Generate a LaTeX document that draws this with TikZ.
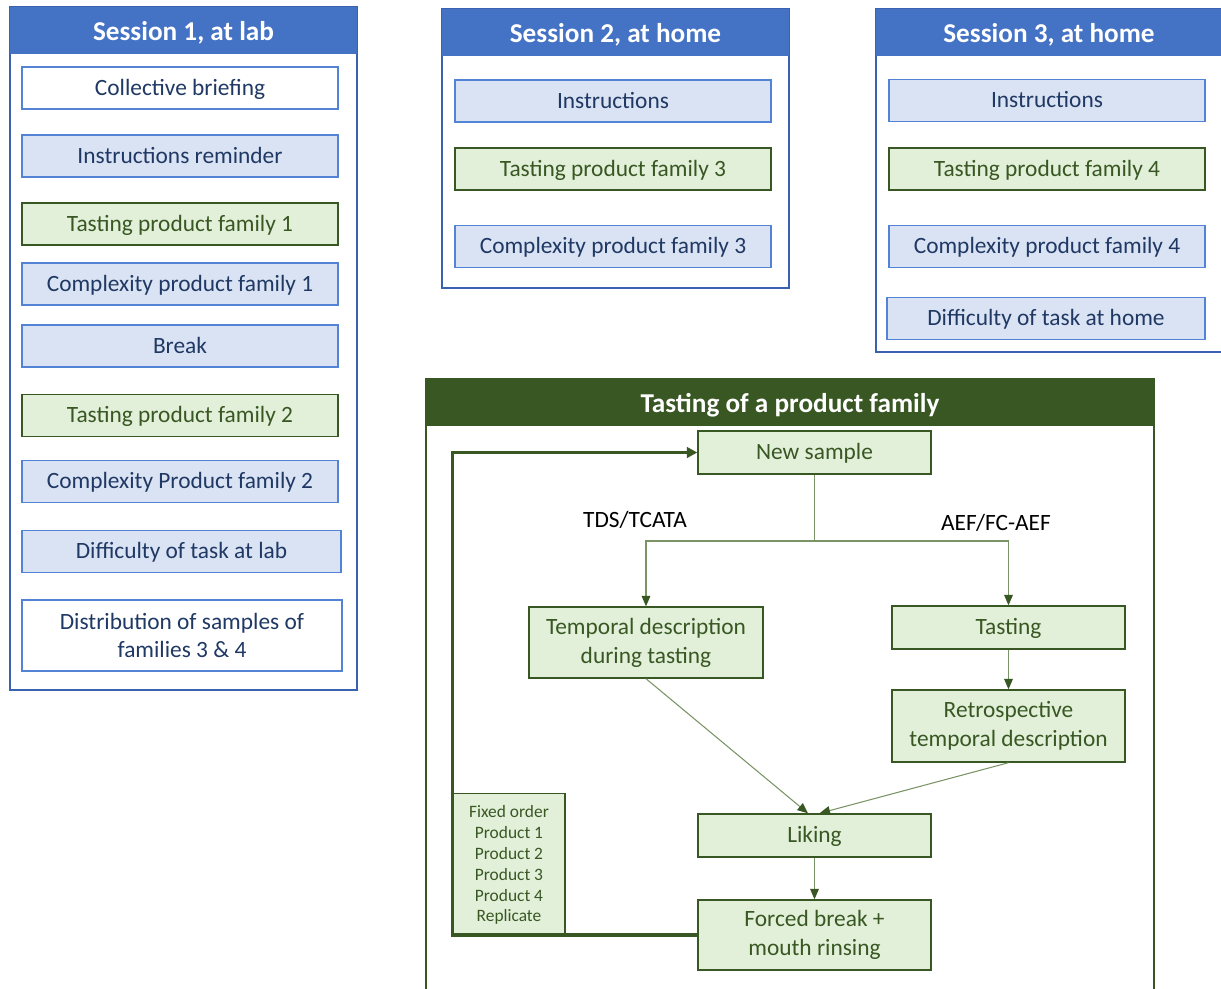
\documentclass[tikz,border=0pt]{standalone}
\usepackage{fontspec}
\setmainfont{Carlito}
\usetikzlibrary{arrows.meta,positioning,calc}

\definecolor{hdblue}{HTML}{4472C4}
\definecolor{frameblue}{HTML}{3A62B0}
\definecolor{boxblue}{HTML}{5283D4}
\definecolor{fillblue}{HTML}{DAE3F3}
\definecolor{navy}{HTML}{1F3864}
\definecolor{hdgreen}{HTML}{385723}
\definecolor{fillgreen}{HTML}{E2F0D9}
\definecolor{linegreen}{HTML}{7A9466}

\begin{document}
\begin{tikzpicture}[x=0.02cm, y=-0.02cm]

% Define styles
\tikzstyle{bluebase} = [rectangle, minimum width=6.32cm, minimum height=0.84cm, align=center, draw=boxblue, fill=fillblue, line width=0.8pt, text=navy, font=\fontsize{13.3}{16.4}\selectfont]
\tikzstyle{greenbase} = [rectangle, minimum width=6.32cm, minimum height=0.84cm, align=center, draw=hdgreen, fill=fillgreen, line width=0.8pt, text=hdgreen, font=\fontsize{13.3}{16.4}\selectfont]
\tikzstyle{oneline} = [text height=10.2pt, text depth=1.8pt]
\tikzstyle{bluebox} = [bluebase, oneline]
\tikzstyle{whitebox} = [bluebase, fill=white]
\tikzstyle{greenbox} = [greenbase, oneline]
\tikzstyle{flowbox} = [greenbase, minimum width=4.66cm]
\tikzstyle{header} = [text=white, font=\fontsize{15.5}{18}\selectfont\bfseries, yshift=-1.5pt]
\tikzstyle{branch} = [text=black, font=\fontsize{13.3}{16}\selectfont]
\tikzstyle{arrow} = [draw=linegreen, line width=0.6pt, -{Triangle[width=5pt, length=6pt, color=hdgreen]}]
\tikzstyle{loopline} = [draw=hdgreen, line width=1.8pt, -{Triangle[width=6pt, length=6pt]}]

\useasboundingbox (0,0) rectangle (1221,988);
\clip (0,0) rectangle (1221,988);

% Session frames
\draw[frameblue, line width=1.1pt, fill=white] (10,7) rectangle (357,690);
\fill[hdblue] (10,7) rectangle (357,54);
\draw[frameblue, line width=1.1pt, fill=white] (442,9) rectangle (789,288);
\fill[hdblue] (442,9) rectangle (789,56);
\draw[frameblue, line width=1.1pt, fill=white] (876,9) rectangle (1224,352);
\fill[hdblue] (876,9) rectangle (1224,56);
\draw[hdgreen, line width=1.1pt, fill=white] (426,379) rectangle (1154,995);
\fill[hdgreen] (426,379) rectangle (1154,426);

\node (s1title) [header] at (183.5,30.5) {Session 1, at lab};
\node (s2title) [header] at (615.5,32.5) {Session 2, at home};
\node (s3title) [header] at (1049,32.5) {Session 3, at home};
\node (tastetitle) [header] at (790,402.5) {Tasting of a product family};

% Session 1
\node (briefing) [bluebox, fill=white] at (180,88) {Collective briefing};
\node (reminder) [bluebox] at (180,156) {Instructions reminder};
\node (taste1) [greenbox] at (180,224) {Tasting product family 1};
\node (complex1) [bluebox] at (180,284) {Complexity product family 1};
\node (break) [bluebox] at (180,346) {Break};
\node (taste2) [greenbox] at (180,415.5) {Tasting product family 2};
\node (complex2) [bluebox] at (180,481.5) {Complexity Product family 2};
\node (difflab) [bluebox, minimum width=6.38cm] at (181.5,551.5) {Difficulty of task at lab};
\node (distrib) [whitebox, minimum width=6.4cm, minimum height=1.42cm] at (182,635.5) {Distribution of samples of\\families 3 \& 4};

% Session 2
\node (instr2) [bluebox] at (613,101) {Instructions};
\node (taste3) [greenbox] at (613,169) {Tasting product family 3};
\node (complex3) [bluebox] at (613,246.5) {Complexity product family 3};

% Session 3
\node (instr3) [bluebox] at (1047,100.5) {Instructions};
\node (taste4) [greenbox] at (1047,169) {Tasting product family 4};
\node (complex4) [bluebox] at (1047,246.5) {Complexity product family 4};
\node (diffhome) [bluebox, minimum width=6.36cm] at (1046,318.5) {Difficulty of task at home};

% Tasting of a product family
\node (newsample) [flowbox, oneline, minimum height=0.86cm] at (814.5,452.5) {New sample};
\node (temporal) [flowbox, minimum width=4.68cm, minimum height=1.42cm] at (646,642.5) {Temporal description\\during tasting};
\node (tasting) [flowbox, oneline, minimum height=0.86cm] at (1008.5,627.5) {Tasting};
\node (retro) [flowbox, minimum height=1.44cm] at (1008.5,726) {Retrospective\\temporal description};
\node (liking) [flowbox, oneline, minimum height=0.86cm] at (814.5,835.5) {Liking};
\node (forced) [flowbox, minimum height=1.4cm] at (814.5,935) {Forced break +\\mouth rinsing};
\node (fixed) [greenbase, minimum width=2.24cm, minimum height=2.86cm, font=\fontsize{9.9}{11.9}\selectfont] at (509,865) {Fixed order\\Product 1\\Product 2\\Product 3\\Product 4\\Replicate};

\node (tds) [branch] at (635,520) {TDS/TCATA};
\node (aef) [branch] at (996,523) {AEF/FC-AEF};

% Connections
\coordinate (split) at (newsample.south |- 0,541);
\draw [draw=linegreen, line width=0.6pt] (newsample.south) -- (split);
\draw [arrow] (split) -| (temporal.north);
\draw [arrow] (split) -| (tasting.north);
\draw [arrow] (tasting) -- (retro);
\draw [arrow] (temporal.south) -- ([xshift=-0.13cm]liking.north);
\draw [arrow] (retro.south) -- ([xshift=0.1cm]liking.north);
\draw [arrow] (liking) -- (forced);

% Loop back
\coordinate (corner) at (fixed.west |- forced.west);
\draw [loopline] (forced.west) -- (corner) |- (newsample.west);

\end{tikzpicture}
\end{document}
